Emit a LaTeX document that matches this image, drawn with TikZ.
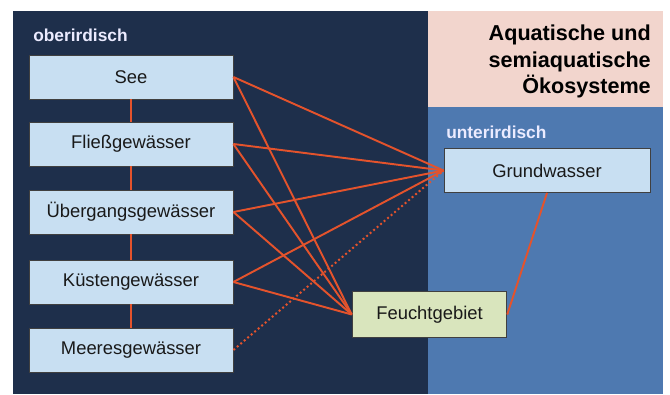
\documentclass[tikz,border=0pt]{standalone}
\usepackage{fontspec}
\setmainfont{Liberation Sans}
\usetikzlibrary{positioning,calc}

\definecolor{navy}{HTML}{1E2F4B}
\definecolor{seablue}{HTML}{4E79B0}
\definecolor{rosa}{HTML}{F2D5CD}
\definecolor{kastenblau}{HTML}{C8DFF2}
\definecolor{kastengruen}{HTML}{D9E5BD}
\definecolor{linie}{HTML}{E4532C}

\tikzset{
  kasten/.style={draw=black!75,line width=0.6pt,fill=kastenblau,minimum width=153pt,minimum height=33pt,inner sep=0pt,font=\fontsize{13.8}{16}\selectfont,text=black!90},
  bereich/.style={font=\fontsize{13}{15}\bfseries\selectfont,text=white!92!blue,anchor=base west,inner sep=0pt},
  verbindung/.style={linie,line width=1.45pt},
}

\begin{document}
\begin{tikzpicture}[x=0.75pt,y=-0.75pt]
  \useasboundingbox (0,0) rectangle (670,394); % Bildgröße wie Vorlage
  \fill[navy] (13,11) rectangle (428,394); % dunkler Bereich links
  \fill[rosa] (428,11) rectangle (663,107); % Titelfeld
  \fill[seablue] (428,107) rectangle (663,394); % unterirdischer Bereich

  \node[font=\fontsize{16.2}{20}\bfseries\selectfont,align=right,anchor=north east,inner sep=0pt] (titel) at (651,24.5)
    {Aquatische und\\semiaquatische\\Ökosysteme};
  \node[bereich] (ober) at (33,41) {oberirdisch};
  \node[bereich] (unter) at (446,138) {unterirdisch};

  % oberirdische Gewässer
  \node[kasten] (see) at (131,77) {See};
  \node[kasten] (fluss) at (131,144) {Fließgewässer};
  \node[kasten] (uebergang) at (131,212) {Übergangsgewässer};
  \node[kasten] (kueste) at (131,282) {Küstengewässer};
  \node[kasten] (meer) at (131,350) {Meeresgewässer};

  \node[kasten,minimum width=154.5pt] (grund) at (547,170.5) {Grundwasser};
  \node[kasten,fill=kastengruen,minimum width=116pt,minimum height=34pt] (feucht) at (429.5,314.5) {Feuchtgebiet};

  % senkrechte Verbindungen zwischen den Kästen
  \foreach \a/\b in {see/fluss,fluss/uebergang,uebergang/kueste,kueste/meer}
    \draw[verbindung,line width=2.2pt] (\a.south) -- (\b.north);

  % Linien zu Grundwasser und Feuchtgebiet
  \foreach \a in {see,fluss,uebergang,kueste} {
    \draw[verbindung] (\a.east) -- (grund.west);
    \draw[verbindung] (\a.east) -- (feucht.west);
  }
  \draw[verbindung,dotted,line width=1.5pt] (meer.east) -- (grund.west); % nur mittelbar verbunden
  \draw[verbindung] (grund.south) -- (feucht.east);
\end{tikzpicture}
\end{document}
